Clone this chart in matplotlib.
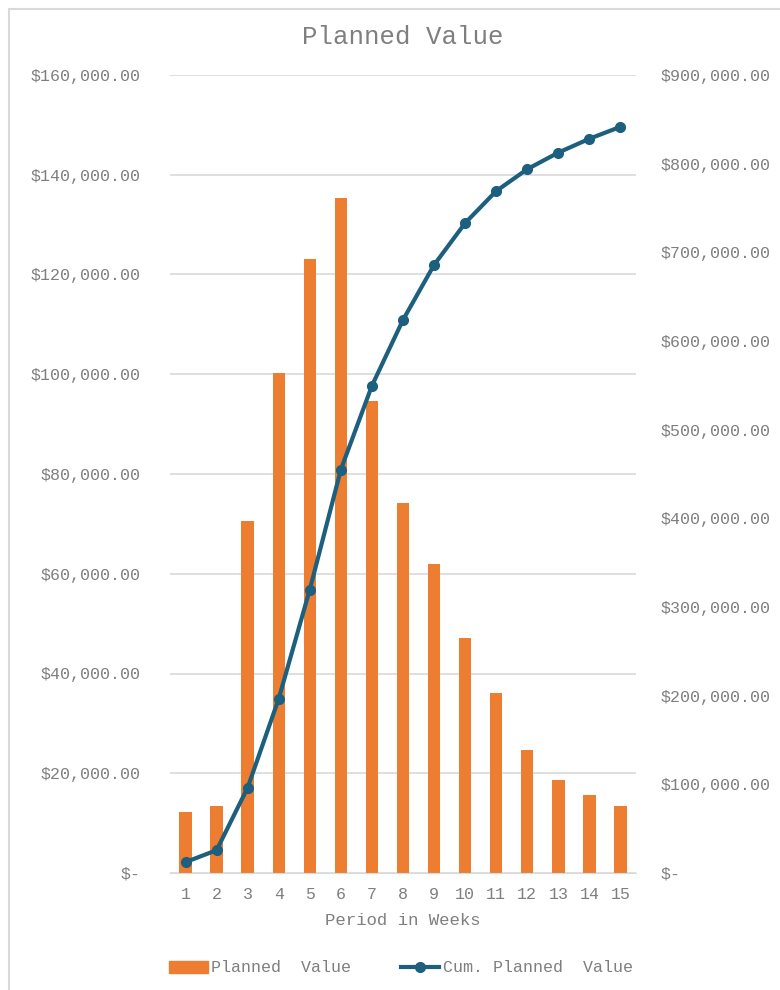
import matplotlib
matplotlib.use("Agg")
import matplotlib.pyplot as plt
from matplotlib.ticker import FuncFormatter
from matplotlib.lines import Line2D

# data
weeks = [1, 2, 3, 4, 5, 6, 7, 8, 9, 10, 11, 12, 13, 14, 15]
planned = [12300, 13400, 70600, 100300, 123100, 135300, 94600, 74200,
           62000, 47200, 36100, 24700, 18700, 15600, 13500]
cum_planned = [12300, 25700, 96300, 196600, 319700, 455000, 549600, 623800,
               685800, 733000, 769100, 793800, 812500, 828100, 841600]

orange = "#ED7D31"
blue = "#1C5F7E"
grey = "#7F7F7F"

plt.rcParams['font.family'] = ['Liberation Mono', 'DejaVu Sans Mono']

def money(v, pos):
	if v == 0:
		return "$-"
	return "${:,.2f}".format(v)

fig = plt.figure(figsize=(7.8, 9.9), dpi=100)
ax = fig.add_axes([170/780, 1 - 873/990, (636 - 170)/780, (873 - 75)/990])
ax2 = ax.twinx()

ax.bar(weeks, planned, width=0.4, color=orange, zorder=2)
ax2.plot(weeks, cum_planned, color=blue, lw=3, marker='o', ms=7, zorder=3)

ax.set_xlim(0.5, 15.5)
ax.set_ylim(0, 160000)
ax2.set_ylim(0, 900000)
ax.set_yticks(range(0, 160001, 20000))
ax2.set_yticks(range(0, 900001, 100000))
ax.yaxis.set_major_formatter(FuncFormatter(money))
ax2.yaxis.set_major_formatter(FuncFormatter(money))
ax.set_xticks(weeks)
ax.set_xticklabels([str(w) for w in weeks])

ax.grid(axis='y', color='#D9D9D9', lw=1.2, zorder=0)
ax.set_axisbelow(True)
for a in (ax, ax2):
	for s in a.spines.values():
		s.set_visible(False)
	a.tick_params(length=0, colors=grey, labelsize=12)
ax.spines['bottom'].set_visible(True)
ax.spines['bottom'].set_color('#D9D9D9')
ax.tick_params(axis='y', pad=21)
ax2.tick_params(axis='y', pad=18)
ax.tick_params(axis='x', pad=10)

ax.set_xlabel('Period in Weeks', color=grey, fontsize=12.5, labelpad=8)
ax.set_title('Planned Value', color=grey, fontsize=18.5, pad=22)

handles = [plt.Rectangle((0, 0), 1, 1, color=orange),
           Line2D([], [], color=blue, lw=3, marker='o', ms=7)]
fig.legend(handles, ['Planned  Value', 'Cum. Planned  Value'], loc='center',
           bbox_to_anchor=(401/780, 1 - 968/990), ncol=2, frameon=False,
           fontsize=12, labelcolor=grey, handlelength=2.3, handletextpad=0.2,
           columnspacing=3.0)

# chart border
fig.add_artist(Line2D([9/780, 1], [1 - 9/990, 1 - 9/990], color='#D9D9D9', lw=1.5))
fig.add_artist(Line2D([9/780, 9/780], [0, 1 - 9/990], color='#D9D9D9', lw=1.5))

fig.savefig('out.png', dpi=100)
